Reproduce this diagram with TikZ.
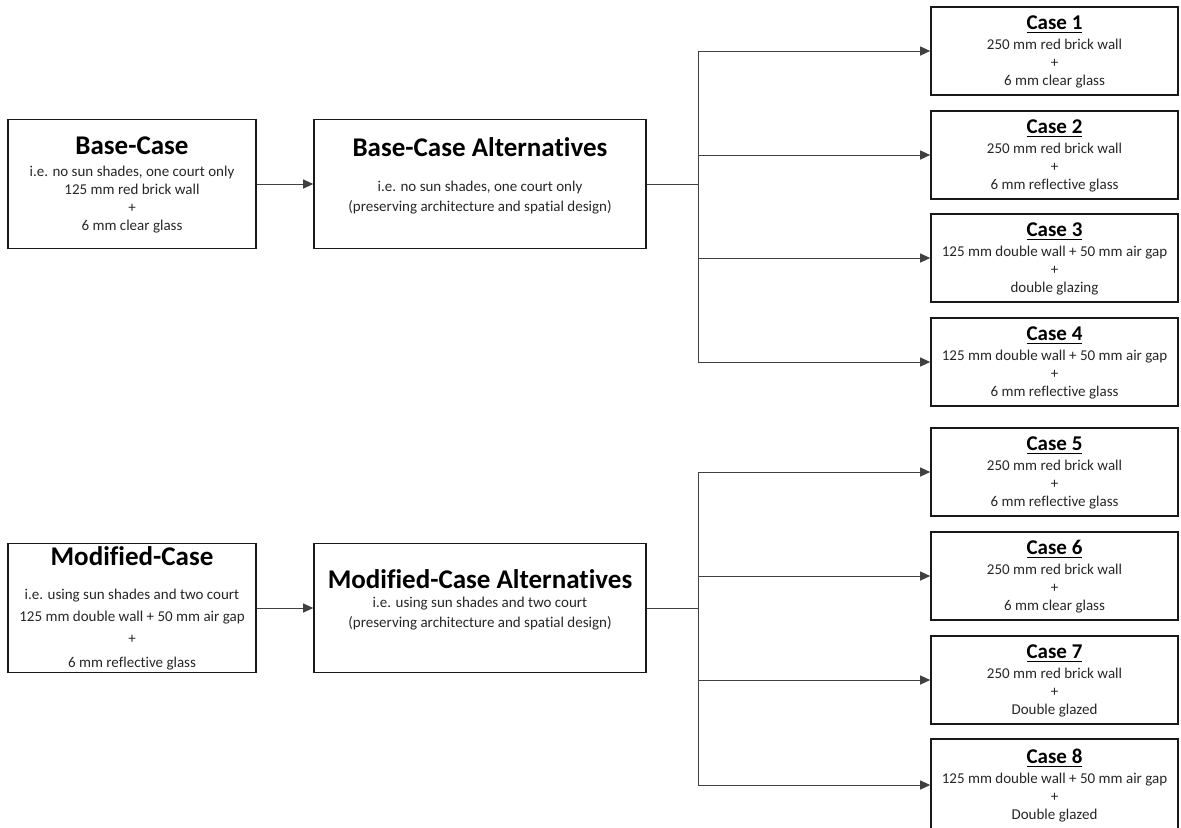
\documentclass[tikz,border=0pt]{standalone}
\usepackage{fontspec}
\setmainfont{Carlito}[RawFeature={-liga}]
\usetikzlibrary{arrows.meta}

\newcommand{\maintitle}[1]{{\fontsize{13.5}{16}\selectfont\bfseries\color{black}#1}}
\newcommand{\casetitle}[1]{{\fontsize{10.5}{12}\selectfont\bfseries\color{black}\underline{#1}}}

\tikzset{
  box/.style={draw=black!90, line width=0.8pt, align=center, inner sep=0pt,
    font=\fontsize{7.5}{9}\selectfont, text=black!85},
  startbox/.style={box, minimum width=124pt, minimum height=64.5pt, text depth=0.5pt},
  altbox/.style={box, minimum width=166pt, minimum height=64.5pt, text depth=9pt},
  casebox/.style={box, minimum width=123.5pt, minimum height=44pt, text depth=0.5pt},
  bus/.style={draw=black!75, line width=0.5pt},
  link/.style={bus, -{Triangle[length=5pt,width=4.5pt]}}
}

\begin{document}
\begin{tikzpicture}[x=0.5pt,y=-0.5pt]
\useasboundingbox (0,0) rectangle (1181,827);
\clip (0,0) rectangle (1181,827);

% base case and its alternatives
\node[startbox] (base) at (132,184) {\maintitle{Base-Case}\\[2pt]
  i.e. no sun shades, one court only\\ 125 mm red brick wall\\ +\\ 6 mm clear glass};
\node[altbox] (basealt) at (480,184) {\maintitle{Base-Case Alternatives}\\[8.5pt]
  i.e. no sun shades, one court only\\[1pt] (preserving architecture and spatial design)};

% modified case and its alternatives
\node[startbox] (mod) at (132,608) {\maintitle{Modified-Case}\\[8pt]
  i.e. using sun shades and two court\\[2pt] 125 mm double wall + 50 mm air gap\\[2pt] +\\[3pt] 6 mm reflective glass};
\node[altbox] (modalt) at (480,608) {\maintitle{Modified-Case Alternatives}\\[0.5pt]
  i.e. using sun shades and two court\\[1pt] (preserving architecture and spatial design)};

% cases
\node[casebox] (case1) at (1054.5,51) {\casetitle{Case 1}\\[1pt] 250 mm red brick wall\\ +\\ 6 mm clear glass};
\node[casebox] (case2) at (1054.5,155) {\casetitle{Case 2}\\[1pt] 250 mm red brick wall\\ +\\ 6 mm reflective glass};
\node[casebox] (case3) at (1054.5,258) {\casetitle{Case 3}\\[1pt] 125 mm double wall + 50 mm air gap\\ +\\ double glazing};
\node[casebox] (case4) at (1054.5,362) {\casetitle{Case 4}\\[1pt] 125 mm double wall + 50 mm air gap\\ +\\ 6 mm reflective glass};
\node[casebox] (case5) at (1054.5,472) {\casetitle{Case 5}\\[1pt] 250 mm red brick wall\\ +\\ 6 mm reflective glass};
\node[casebox] (case6) at (1054.5,576) {\casetitle{Case 6}\\[1pt] 250 mm red brick wall\\ +\\ 6 mm clear glass};
\node[casebox] (case7) at (1054.5,680) {\casetitle{Case 7}\\[1pt] 250 mm red brick wall\\ +\\ Double glazed};
\node[casebox, minimum height=46pt] (case8) at (1054.5,785) {\casetitle{Case 8}\\[1pt] 125 mm double wall + 50 mm air gap\\ +\\ Double glazed};

% connectors
\coordinate (basebus) at (698,184);
\coordinate (modbus) at (698,608);
\draw[link] (base) -- (basealt);
\draw[link] (mod) -- (modalt);
\draw[bus] (basealt.east) -- (basebus);
\draw[bus] (modalt.east) -- (modbus);
\draw[link] (basebus) |- (case1.west);
\draw[link] (basebus) |- (case2.west);
\draw[link] (basebus) |- (case3.west);
\draw[link] (basebus) |- (case4.west);
\draw[link] (modbus) |- (case5.west);
\draw[link] (modbus) |- (case6.west);
\draw[link] (modbus) |- (case7.west);
\draw[link] (modbus) |- (case8.west);
\end{tikzpicture}
\end{document}
